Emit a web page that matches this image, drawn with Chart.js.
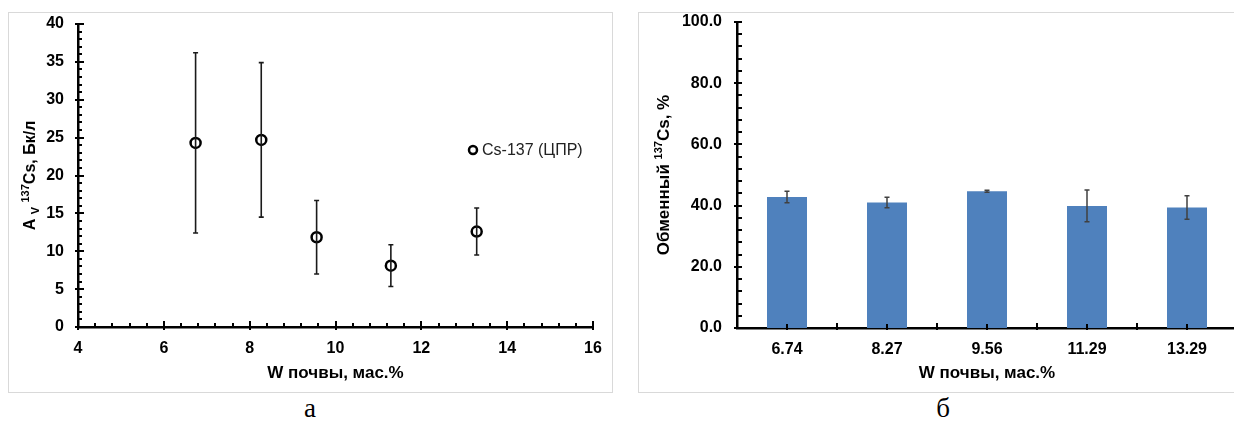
<!DOCTYPE html>
<html><head><meta charset="utf-8">
<script src="https://cdn.jsdelivr.net/npm/chart.js@4.4.1/dist/chart.umd.min.js"></script>
<style>
html,body{margin:0;padding:0;background:#fff;width:1234px;height:424px;overflow:hidden;position:relative}
.box{position:absolute;top:12px;width:605px;height:381px}
#b1{left:8px} #b2{left:638px}
.cap{position:absolute;top:394px;font:27px "Liberation Serif","Times New Roman",serif;color:#000;transform:translateX(-50%);line-height:28px}
</style></head><body>
<div class="box" id="b1"><canvas id="c1" width="605" height="381"></canvas></div>
<div class="box" id="b2"><canvas id="c2" width="605" height="381"></canvas></div>
<div class="cap" style="left:310px">а</div>
<div class="cap" style="left:943px">б</div>
<script>
// ---- data: panel а (scatter) ----
const moistureX = [6.74, 8.27, 9.56, 11.29, 13.29];
const activity = [24.3, 24.7, 11.85, 8.1, 12.6];
const activityErr = [11.9, 10.2, 4.85, 2.75, 3.1];
const seriesLabelA = 'Cs-137 (ЦПР)';
// ---- data: panel б (bars) ----
const categories = ['6.74', '8.27', '9.56', '11.29', '13.29'];
const exchangeable = [42.8, 41.0, 44.7, 39.9, 39.4];
const exchangeableErr = [1.85, 1.7, 0.3, 5.2, 3.85];

const FONT = '"Liberation Sans", Arial, sans-serif';
Chart.defaults.font.family = FONT;
Chart.defaults.color = '#000';

function fixAxis(size, isY) {
  return function (scale) {
    if (isY) scale.width = size; else scale.height = size;
    scale.paddingLeft = scale.paddingRight = scale.paddingTop = scale.paddingBottom = 0;
  };
}

function drawRich(ctx, segs, cx, cy, rotate) {
  ctx.save();
  ctx.translate(cx, cy);
  if (rotate) ctx.rotate(-Math.PI / 2);
  let total = 0;
  segs.forEach(s => { ctx.font = 'bold ' + s.size + 'px ' + FONT; s.w = ctx.measureText(s.t).width; total += s.w; });
  let x = -total / 2;
  ctx.textBaseline = 'middle';
  ctx.fillStyle = '#000';
  segs.forEach(s => {
    ctx.font = 'bold ' + s.size + 'px ' + FONT;
    ctx.fillText(s.t, x, s.dy || 0);
    x += s.w;
  });
  ctx.restore();
}

const frame = {
  id: 'frame',
  beforeDraw(chart) {
    const ctx = chart.ctx;
    ctx.save();
    ctx.strokeStyle = '#d9d9d9';
    ctx.lineWidth = 1;
    ctx.strokeRect(0.5, 0.5, chart.width - 1, chart.height - 1);
    ctx.restore();
  }
};

const errorBars = {
  id: 'errorBars',
  afterDatasetsDraw(chart, args, opts) {
    const ctx = chart.ctx;
    const ys = chart.scales.y;
    chart.data.datasets.forEach((ds, di) => {
      const meta = chart.getDatasetMeta(di);
      ctx.save();
      ctx.strokeStyle = opts.color;
      ctx.lineWidth = opts.width;
      meta.data.forEach((el, i) => {
        const v = typeof ds.data[i] === 'object' ? ds.data[i].y : ds.data[i];
        const e = ds.errors[i];
        const x = el.x;
        const yt = ys.getPixelForValue(v + e), yb = ys.getPixelForValue(v - e);
        ctx.beginPath();
        ctx.moveTo(x, yt); ctx.lineTo(x, yb);
        ctx.moveTo(x - opts.cap, yt); ctx.lineTo(x + opts.cap, yt);
        ctx.moveTo(x - opts.cap, yb); ctx.lineTo(x + opts.cap, yb);
        ctx.stroke();
      });
      ctx.restore();
    });
  }
};

// ---------- panel а ----------
const tickMarksA = {
  id: 'tickMarksA',
  afterDraw(chart) {
    const ctx = chart.ctx, xs = chart.scales.x, ys = chart.scales.y, a = chart.chartArea;
    ctx.save();
    ctx.strokeStyle = '#000';
    ctx.lineWidth = 2;
    ctx.beginPath();
    for (let v = 0; v <= 40.001; v += 1) {
      const y = Math.round(ys.getPixelForValue(v));
      const major = Math.abs(v % 5) < 1e-6;
      ctx.moveTo(a.left - (major ? 3 : 0), y);
      ctx.lineTo(a.left + (major ? 6 : 4), y);
    }
    for (let k = 0; k <= 30; k++) {
      const v = 4 + k * 0.4;
      const x = Math.round(xs.getPixelForValue(v));
      const major = k % 5 === 0;
      ctx.moveTo(x, a.bottom + (major ? 3 : 0));
      ctx.lineTo(x, a.bottom - (major ? 6 : 4));
    }
    ctx.stroke();
    // legend
    const lx = 465, ly = 138;
    ctx.beginPath();
    ctx.lineWidth = 2.5;
    ctx.fillStyle = '#fff';
    ctx.arc(lx, ly, 4, 0, Math.PI * 2);
    ctx.fill(); ctx.stroke();
    ctx.fillStyle = '#222';
    ctx.font = '16px ' + FONT;
    ctx.textBaseline = 'middle';
    ctx.fillText(chart.data.datasets[0].label, lx + 9, ly + 1);
    ctx.restore();
    // titles
    drawRich(ctx, [
      { t: 'A ', size: 16 }, { t: 'V', size: 11, dy: 5 }, { t: ' ', size: 16 },
      { t: '137', size: 11, dy: -5 }, { t: 'Cs, Бк/л', size: 16 }
    ], 23, (a.top + a.bottom) / 2, true);
    drawRich(ctx, [{ t: 'W почвы, мас.%', size: 17 }], (a.left + a.right) / 2, 361, false);
  }
};

new Chart(document.getElementById('c1'), {
  type: 'scatter',
  data: {
    datasets: [{
      label: seriesLabelA,
      data: moistureX.map((x, i) => ({ x: x, y: activity[i] })),
      errors: activityErr,
      pointRadius: 5,
      pointHoverRadius: 5,
      pointBorderWidth: 2.5,
      pointBorderColor: '#000',
      pointBackgroundColor: '#fff',
      showLine: false
    }]
  },
  options: {
    responsive: false,
    animation: false,
    layout: { padding: { left: 0, right: 20, top: 12, bottom: 0 } },
    plugins: {
      legend: { display: false }, tooltip: { enabled: false },
      errorBars: { color: '#1a1a1a', width: 1.6, cap: 2.5 }
    },
    scales: {
      x: {
        type: 'linear', min: 4, max: 16,
        ticks: { stepSize: 2, padding: 12, font: { size: 16, weight: 'bold' }, color: '#000' },
        grid: { display: false, drawTicks: false },
        border: { display: true, color: '#000', width: 2.5 },
        afterFit: fixAxis(66, false)
      },
      y: {
        min: 0, max: 40,
        ticks: { stepSize: 5, padding: 14, font: { size: 16, weight: 'bold' }, color: '#000' },
        grid: { display: false, drawTicks: false },
        border: { display: true, color: '#000', width: 2.5 },
        afterFit: fixAxis(70, true)
      }
    }
  },
  plugins: [frame, errorBars, tickMarksA]
});

// ---------- panel б ----------
const tickMarksB = {
  id: 'tickMarksB',
  afterDraw(chart) {
    const ctx = chart.ctx, xs = chart.scales.x, ys = chart.scales.y, a = chart.chartArea;
    ctx.save();
    ctx.strokeStyle = '#000';
    ctx.lineWidth = 2;
    ctx.beginPath();
    for (let v = 0; v <= 100.001; v += 4) {
      const y = Math.round(ys.getPixelForValue(v));
      const major = Math.abs(v % 20) < 1e-6;
      ctx.moveTo(a.left - (major ? 3 : 0), y);
      ctx.lineTo(a.left + 5, y);
    }
    const n = chart.data.labels.length;
    for (let i = 0; i < n; i++) {
      const x = Math.round(xs.getPixelForValue(i));
      ctx.moveTo(x, a.bottom + 2); ctx.lineTo(x, a.bottom - 4);
      if (i > 0) {
        const xb = Math.round((xs.getPixelForValue(i - 1) + x) / 2);
        ctx.moveTo(xb, a.bottom + 2); ctx.lineTo(xb, a.bottom - 5);
      }
    }
    ctx.stroke();
    ctx.restore();
    drawRich(ctx, [
      { t: 'Обменный ', size: 17 }, { t: '137', size: 11, dy: -5 }, { t: 'Cs, %', size: 17 }
    ], 26, (a.top + a.bottom) / 2, true);
    drawRich(ctx, [{ t: 'W почвы, мас.%', size: 17 }], (a.left + a.right) / 2, 361, false);
  }
};

new Chart(document.getElementById('c2'), {
  type: 'bar',
  data: {
    labels: categories,
    datasets: [{
      label: 'Обменный 137Cs',
      data: exchangeable,
      errors: exchangeableErr,
      backgroundColor: '#4f81bd',
      borderWidth: 0,
      barPercentage: 0.4,
      categoryPercentage: 1.0
    }]
  },
  options: {
    responsive: false,
    animation: false,
    layout: { padding: { left: 0, right: 6, top: 10, bottom: 0 } },
    plugins: {
      legend: { display: false }, tooltip: { enabled: false },
      errorBars: { color: '#404040', width: 1.5, cap: 2.5 }
    },
    scales: {
      x: {
        offset: true,
        ticks: { padding: 12, font: { size: 16, weight: 'bold' }, color: '#000', maxRotation: 0 },
        grid: { display: false, drawTicks: false },
        border: { display: true, color: '#000', width: 2.5 },
        afterFit: fixAxis(65, false)
      },
      y: {
        min: 0, max: 100,
        ticks: { stepSize: 20, padding: 15, font: { size: 16, weight: 'bold' }, color: '#000',
                 callback: v => Number(v).toFixed(1) },
        grid: { display: false, drawTicks: false },
        border: { display: true, color: '#000', width: 2.5 },
        afterFit: fixAxis(99, true)
      }
    }
  },
  plugins: [frame, errorBars, tickMarksB]
});
</script>
</body></html>
